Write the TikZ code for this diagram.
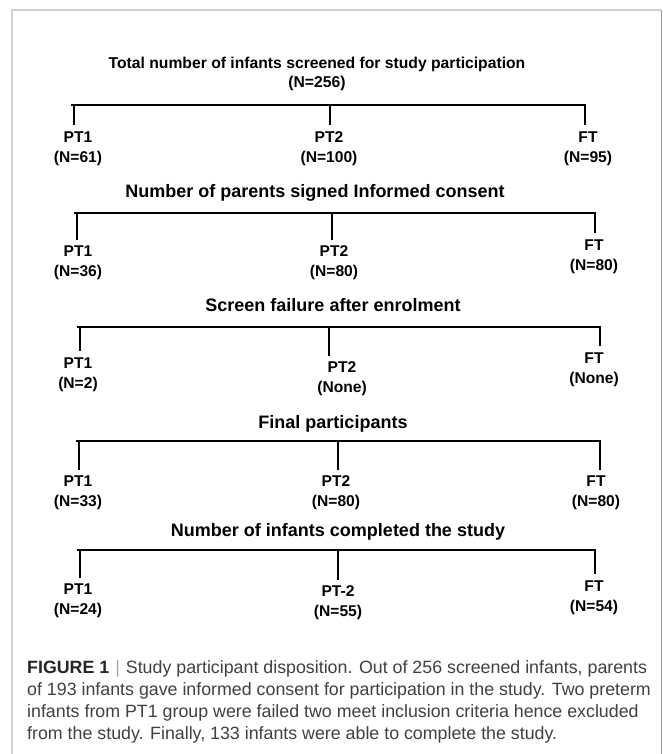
\documentclass[tikz,border=0pt]{standalone}
\usepackage{fontspec}
\setmainfont{Liberation Sans}

\definecolor{framegray}{HTML}{D0D0D0}
\definecolor{edgegray}{HTML}{9A9A9A}
\definecolor{captext}{HTML}{404040}

\begin{document}
\begin{tikzpicture}[x = 1pt, y = -1pt,
	title/.style = {font = \bfseries\fontsize{15.7}{19}\selectfont, align = center},
	heading/.style = {anchor = base, font = \bfseries\fontsize{18}{22}\selectfont},
	group/.style = {font = \bfseries\fontsize{15.6}{20}\selectfont, align = center, inner sep = 1pt},
	bar/.style = {line width = 1.6pt},
	captionline/.style = {anchor = base west, inner sep = 0pt, text = captext, font = \fontsize{17.8}{22}\selectfont}]

	\useasboundingbox (0, 0) rectangle (663, 754);

	% Frame
	
	\draw [framegray, line width = 2pt] (12, 754) -- (12, 10.5) -- (661, 10.5);
	\draw [edgegray, line width = 1pt] (661, 10.5) -- (661, 754);

	% Screened
	
	\node [title] (top) at (317, 74) {Total number of infants screened for study participation\\(N=256)};
	\coordinate (la) at (74, 105);
	\coordinate (ma) at (330, 105);
	\coordinate (ra) at (585, 105);
	\node [group] (pt1a) at (78, 148.6) {PT1\\(N=61)};
	\node [group] (pt2a) at (329, 148.6) {PT2\\(N=100)};
	\node [group] (fta) at (588, 148.6) {FT\\(N=95)};

	% Informed consent
	
	\node [heading] (hdb) at (315, 197.5) {Number of parents signed Informed consent};
	\coordinate (lb) at (77, 213);
	\coordinate (mb) at (332, 213);
	\coordinate (rb) at (595, 213);
	\node [group] (pt1b) at (78, 263) {PT1\\(N=36)};
	\node [group] (pt2b) at (334, 263) {PT2\\(N=80)};
	\node [group] (ftb) at (594, 256.6) {FT\\(N=80)};

	% Screen failure
	
	\node [heading] (hdc) at (333, 311.5) {Screen failure after enrolment};
	\coordinate (lc) at (80, 327);
	\coordinate (mc) at (329, 327);
	\coordinate (rc) at (600, 327);
	\node [group] (pt1c) at (78, 374.6) {PT1\\(N=2)};
	\node [group] (pt2c) at (342, 379.1) {PT2\\(None)};
	\node [group] (ftc) at (594, 369.6) {FT\\(None)};

	% Final participants
	
	\node [heading] (hdd) at (333, 428.5) {Final participants};
	\coordinate (ld) at (79, 441);
	\coordinate (md) at (338, 441);
	\coordinate (rd) at (600, 441);
	\node [group] (pt1d) at (78, 493) {PT1\\(N=33)};
	\node [group] (pt2d) at (336, 493) {PT2\\(N=80)};
	\node [group] (ftd) at (596, 493) {FT\\(N=80)};

	% Completed
	
	\node [heading] (hde) at (338, 536.5) {Number of infants completed the study};
	\coordinate (le) at (80, 550);
	\coordinate (me) at (338, 550);
	\coordinate (re) at (595, 550);
	\node [group] (pt1e) at (78, 601.1) {PT1\\(N=24)};
	\node [group] (pt2e) at (338, 603.1) {PT-2\\(N=55)};
	\node [group] (fte) at (594, 597.6) {FT\\(N=54)};

	% Bars + drops
	
	\foreach \r in {a, b, c, d, e} {
		\draw [bar] ([xshift = -3pt] l\r) -- ([xshift = 1pt] r\r);
		\draw [bar, shorten > = 5pt] (l\r) -- (l\r |- pt1\r.north);
		\draw [bar, shorten > = 5pt] (m\r) -- (m\r |- pt2\r.north);
		\draw [bar, shorten > = 5pt] (r\r) -- (r\r |- ft\r.north);
	}

	% Caption
	
	\node [captionline] (cap1) at (27, 673.5) {\textbf{\color{black!85}FIGURE 1}\hspace{6pt}{\color{gray!70}|}\hspace{6pt}Study participant disposition. Out of 256 screened infants, parents};
	\node [captionline] (cap2) at (27, 695.5) {of 193 infants gave informed consent for participation in the study. Two preterm};
	\node [captionline] (cap3) at (27, 717.5) {infants from PT1 group were failed two meet inclusion criteria hence excluded};
	\node [captionline] (cap4) at (27, 739.5) {from the study. Finally, 133 infants were able to complete the study.};

\end{tikzpicture}
\end{document}
